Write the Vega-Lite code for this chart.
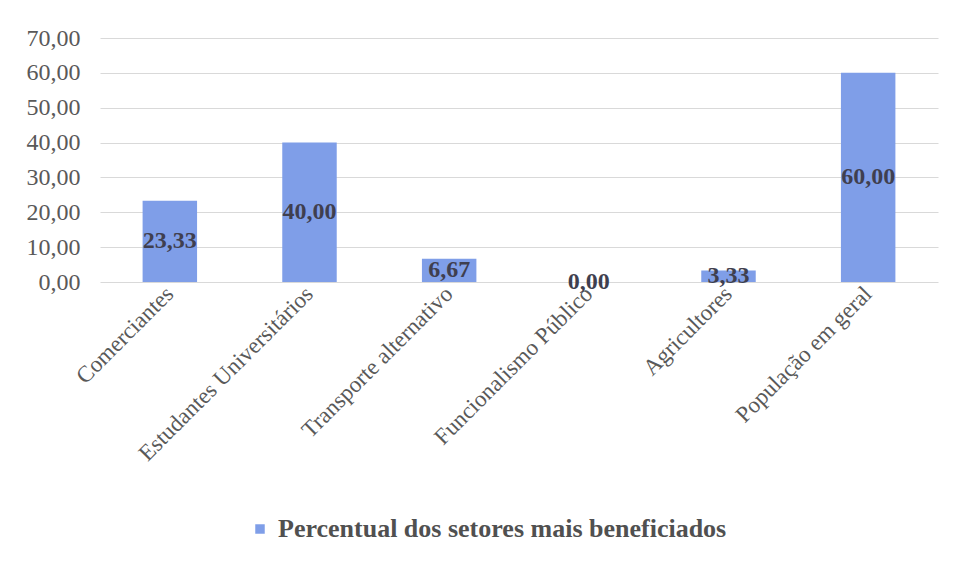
{
  "$schema": "https://vega.github.io/schema/vega-lite/v6.json",
  "width": 838,
  "height": 244,
  "autosize": "none",
  "padding": {"left": 100, "top": 38, "right": 17, "bottom": 281},
  "background": "white",
  "config": {
    "locale": {"number": {"decimal": ",", "thousands": ".", "grouping": [3], "currency": ["R$ ", ""]}},
    "view": {"stroke": null},
    "font": "Liberation Serif"
  },
  "data": {
    "values": [
      {"setor": "Comerciantes", "valor": 23.33},
      {"setor": "Estudantes Universitários", "valor": 40.0},
      {"setor": "Transporte alternativo", "valor": 6.67},
      {"setor": "Funcionalismo Público", "valor": 0.0},
      {"setor": "Agricultores", "valor": 3.33},
      {"setor": "População em geral", "valor": 60.0}
    ]
  },
  "encoding": {
    "x": {
      "field": "setor",
      "type": "nominal",
      "sort": null,
      "scale": {"paddingInner": 0.61, "paddingOuter": 0.305},
      "axis": {
        "title": null,
        "labelAngle": -45,
        "labelAlign": "right",
        "labelBaseline": "middle",
        "labelFont": "Liberation Serif",
        "labelFontSize": 23,
        "labelColor": "#595959",
        "labelPadding": 8,
        "ticks": false,
        "domain": false,
        "labelLimit": 400,
        "labelOverlap": false
      }
    },
    "y": {
      "field": "valor",
      "type": "quantitative",
      "scale": {"domain": [0, 70], "nice": false},
      "axis": {
        "title": null,
        "values": [0, 10, 20, 30, 40, 50, 60, 70],
        "format": ".2f",
        "labelFont": "Liberation Serif",
        "labelFontSize": 24,
        "labelColor": "#595959",
        "labelPadding": 20,
        "labelOverlap": false,
        "labelFlush": false,
        "ticks": false,
        "domain": false,
        "grid": true,
        "gridColor": "#d9d9d9",
        "gridWidth": 1
      }
    }
  },
  "layer": [
    {
      "mark": {"type": "bar"},
      "encoding": {
        "color": {
          "datum": "Percentual dos setores mais beneficiados",
          "type": "nominal",
          "scale": {"range": ["#7f9ee8"]},
          "legend": {
            "title": null,
            "orient": "none",
            "legendX": 147,
            "legendY": 478,
            "symbolType": "square",
            "symbolSize": 90,
            "symbolStrokeWidth": 0,
            "labelFont": "Liberation Serif",
            "labelFontSize": 26,
            "labelFontWeight": "bold",
            "labelColor": "#505050",
            "labelOffset": 5,
            "labelLimit": 700
          }
        }
      }
    },
    {
      "mark": {
        "type": "text",
        "font": "Liberation Serif",
        "fontSize": 24,
        "fontWeight": "bold",
        "color": "#3f3f4f",
        "baseline": "middle",
        "align": "center",
        "dy": {"expr": "(scale('y', 0) - scale('y', datum.valor)) / 2"}
      },
      "encoding": {
        "text": {"field": "valor", "type": "quantitative", "format": ".2f"}
      }
    }
  ]
}
